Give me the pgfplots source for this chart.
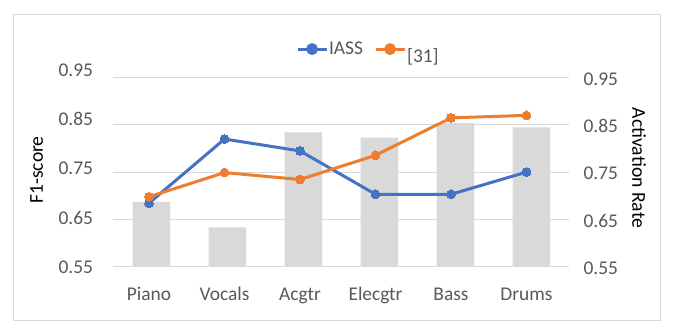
\documentclass[border=0pt]{standalone}
\usepackage{pgfplots}
\pgfplotsset{compat=1.18}
\usepackage{fontspec}
\setmainfont{Carlito}
\definecolor{gridc}{HTML}{D9D9D9}
\definecolor{barc}{HTML}{D9D9D9}
\definecolor{labc}{HTML}{595959}
\definecolor{blueC}{HTML}{4472C4}
\definecolor{orangeC}{HTML}{ED7D31}
\newcommand\ticksize{\fontsize{19.5}{23}\selectfont}
\newcommand\titlesize{\fontsize{19.7}{23}\selectfont}
\begin{document}
\begin{tikzpicture}
\path[use as bounding box] (0,0) rectangle (675bp,336bp);
\fill[white] (0,0) rectangle (675bp,336bp);
\draw[draw=gridc, line width=1bp] (13.5bp,15.3bp) rectangle (660bp,321bp);
% secondary axis: activation rate (bars)
\begin{axis}[
  at={(113.3bp,69.33bp)}, anchor=south west,
  scale only axis, width=456bp, height=189bp,
  xmin=-0.5, xmax=5.5, ymin=0.55, ymax=0.95,
  axis x line*=bottom, axis y line*=right,
  y axis line style={draw=none},
  x axis line style={draw=gridc, line width=1bp, -},
  xtick=\empty, minor xtick={-0.5,0.5,1.5,2.5,3.5,4.5,5.5},
  minor tick length=4bp, tick align=outside,
  minor tick style={draw=gridc, line width=0.8bp},
  ytick={0.55,0.65,0.75,0.85,0.95},
  major tick length=0pt,
  ymajorgrids, grid style={draw=gridc, line width=1bp},
  yticklabel style={font=\ticksize, color=labc, anchor=west, inner sep=0pt, xshift=14bp, yshift=-1.5bp,
    /pgf/number format/.cd, fixed, fixed zerofill, precision=2, assume math mode=true},
  ylabel={Activation Rate},
  every axis y label/.style={at={(rel axis cs:1,0.522)}, xshift=69.7bp, rotate=-90, anchor=center, font=\titlesize, color=black},
]
\addplot[ybar, bar width=37.5bp, fill=barc, draw=none, forget plot] coordinates {
  (0,0.687) (1,0.633) (2,0.834) (3,0.823) (4,0.854) (5,0.845)
};
\end{axis}
% primary axis: F1-score (lines)
\begin{axis}[
  at={(111.25bp,68.7bp)}, anchor=south west,
  scale only axis, width=453bp, height=197.3bp,
  xmin=-0.5, xmax=5.5, ymin=0.55, ymax=0.95,
  axis x line*=bottom, axis y line*=left,
  axis line style={draw=none},
  major tick length=0pt,
  xtick={0,1,2,3,4,5},
  xticklabels={Piano,Vocals,Acgtr,Elecgtr,Bass,Drums},
  xticklabel style={font=\ticksize, color=labc, anchor=base, inner sep=0pt, yshift=-32.7bp},
  ytick={0.55,0.65,0.75,0.85,0.95},
  yticklabel style={font=\ticksize, color=labc, anchor=east, inner sep=0pt, xshift=-18bp,
    /pgf/number format/.cd, fixed, fixed zerofill, precision=2, assume math mode=true},
  ylabel={F1-score},
  every axis y label/.style={at={(rel axis cs:0,0.493)}, xshift=-74.5bp, rotate=90, anchor=center, font=\titlesize, color=black},
  clip=false,
  legend style={at={(0.408,1.106)}, anchor=west, draw=none, fill=none, legend columns=2,
    font=\ticksize, text=labc, inner sep=0pt, outer sep=0pt, nodes={inner sep=1bp},
    /tikz/every even column/.append style={column sep=10bp}},
  legend image code/.code={\draw[line width=3bp] (0bp,0bp) -- (29bp,0bp); \fill (14.5bp,0bp) circle (4.4bp);},
]
\addplot[color=blueC, line width=3bp, mark=*, mark size=4.4bp, mark options={fill=blueC, draw=blueC, line width=0pt}] coordinates {
  (0,0.680) (1,0.810) (2,0.786) (3,0.698) (4,0.698) (5,0.743)
};
\addlegendentry{IASS}
\addplot[color=orangeC, line width=3bp, mark=*, mark size=4.4bp, mark options={fill=orangeC, draw=orangeC, line width=0pt}] coordinates {
  (0,0.693) (1,0.742) (2,0.728) (3,0.777) (4,0.853) (5,0.858)
};
\addlegendentry{\raisebox{-7bp}[\height][\depth]{[31]}}
\end{axis}
\end{tikzpicture}
\end{document}
